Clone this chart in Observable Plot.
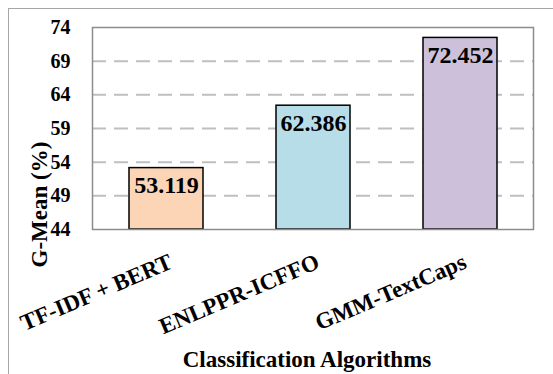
<!DOCTYPE html>
<html>
<head>
<meta charset="utf-8">
<script src="https://cdn.jsdelivr.net/npm/d3@7"></script>
<script src="https://cdn.jsdelivr.net/npm/@observablehq/plot@0.6"></script>
<style>
  html, body { margin: 0; padding: 0; background: #fff; overflow: hidden; }
  #wrap { position: relative; width: 553px; height: 374px; overflow: hidden; }
  #border { position: absolute; left: 8px; top: 8px; width: 620px; height: 420px; border: 1.5px solid #a6a6a6; box-sizing: border-box; pointer-events: none; }
  #chart { position: absolute; left: 0; top: 0; }
</style>
</head>
<body>
<div id="wrap"><div id="chart"></div><div id="border"></div></div>
<script>
const categories = ["TF-IDF + BERT", "ENLPPR-ICFFO", "GMM-TextCaps"];
const values = [53.119, 62.386, 72.452];
const colors = ["#FBD5B5", "#B7DEE8", "#CCC0DA"];
const yTicks = [44, 49, 54, 59, 64, 69, 74];
const yTitle = "G-Mean (%)";
const xTitle = "Classification Algorithms";

const data = categories.map((c, i) => ({category: c, value: values[i], color: colors[i]}));
const font = "'Liberation Serif', 'Times New Roman', serif";

const chart = Plot.plot({
  width: 553,
  height: 374,
  marginLeft: 92,
  marginRight: 20,
  marginTop: 27,
  marginBottom: 145,
  style: {fontFamily: font, fontWeight: "bold", color: "#000", background: "transparent"},
  x: {domain: categories, paddingInner: 0.5, paddingOuter: 0.25, axis: null},
  y: {domain: [44, 74], axis: null},
  marks: [
    Plot.gridY(yTicks.slice(1, -1), {stroke: "#bfbfbf", strokeOpacity: 1, strokeWidth: 2, strokeDasharray: "14,8"}),
    Plot.barY(data, {x: "category", y1: 44, y2: "value", fill: "color", stroke: "#000", strokeWidth: 1.5}),
    Plot.frame({stroke: "#8c8c8c", strokeWidth: 1.5}),
    Plot.axisY(yTicks, {tickSize: 0, tickPadding: 22, fontSize: 20, fontWeight: "bold", fill: "#000", label: null, tickFormat: d => String(d)}),
    Plot.text(data, {x: "category", y: "value", text: d => d.value.toFixed(3), lineAnchor: "top", dy: 8, fontSize: 24, fontWeight: "bold", fill: "#000"}),
    Plot.text(data, {x: "category", text: "category", frameAnchor: "bottom", textAnchor: "end", lineAnchor: "top", rotate: -23, dx: 1, dy: 23, fontSize: 23, fontWeight: "bold", fill: "#000"}),
    Plot.text([yTitle], {frameAnchor: "bottom-left", textAnchor: "start", lineAnchor: "bottom", rotate: -90, dx: -46, dy: 38, fontSize: 23, fontWeight: "bold", fill: "#000"}),
    Plot.text([xTitle], {frameAnchor: "bottom", lineAnchor: "bottom", dx: -6, dy: 137, fontSize: 23, fontWeight: "bold", fill: "#000"})
  ]
});
document.getElementById("chart").appendChild(chart);
</script>
</body>
</html>
